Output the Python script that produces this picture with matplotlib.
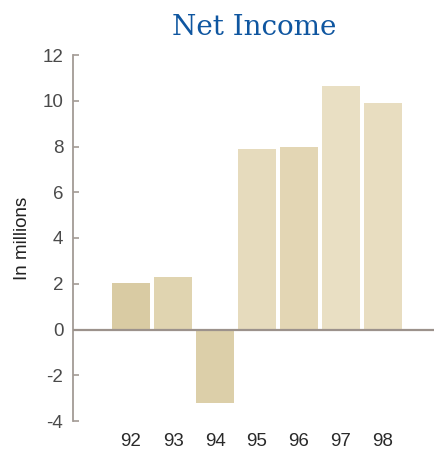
import matplotlib
matplotlib.use('Agg')
import matplotlib.pyplot as plt

# Datos (millones)
anios = ['92', '93', '94', '95', '96', '97', '98']
ingreso_neto = [2.05, 2.3, -3.2, 7.9, 8.0, 10.65, 9.9]
colores_barras = ['#d9cba3', '#e0d4b0', '#dccfa9', '#e6dbbd', '#e3d6b4', '#e9dfc3', '#e8ddc0']

plt.rcParams['font.family'] = ['Liberation Sans', 'DejaVu Sans']
plt.rcParams['axes.unicode_minus'] = False

fig = plt.figure(figsize=(4.35, 4.5), dpi=100)
ax = fig.add_axes([73 / 435, 29 / 450, 1 - 73 / 435, 366 / 450])

posiciones = list(range(len(anios)))
ax.bar(posiciones, ingreso_neto, width=0.92, color=colores_barras, zorder=2)

# Linea del cero
ax.axhline(0, color='#9c928c', linewidth=1.6, zorder=3)

ax.set_xlim(-1.381, 7.238)
ax.set_ylim(-4, 12)
ax.set_yticks(range(-4, 13, 2))
ax.set_xticks(posiciones)
ax.set_xticklabels(anios)

for lado in ['top', 'right', 'bottom']:
    ax.spines[lado].set_visible(False)
ax.spines['left'].set_color('#a39b95')
ax.spines['left'].set_linewidth(1.3)

ax.tick_params(axis='y', direction='in', length=4, width=1.2, color='#a39b95',
               labelsize=13.5, labelcolor='#4a4a4a', pad=7)
ax.tick_params(axis='x', length=0, labelsize=13.5, labelcolor='#2a2a2a', pad=9)

ax.set_ylabel('In millions', fontsize=13.5, color='#222222', labelpad=8)

fig.text(254 / 435, 1 - 35 / 450, 'Net Income', family='DejaVu Serif',
         fontsize=20, color='#0f56a0', ha='center', va='baseline')

fig.savefig('out.png', dpi=100)
